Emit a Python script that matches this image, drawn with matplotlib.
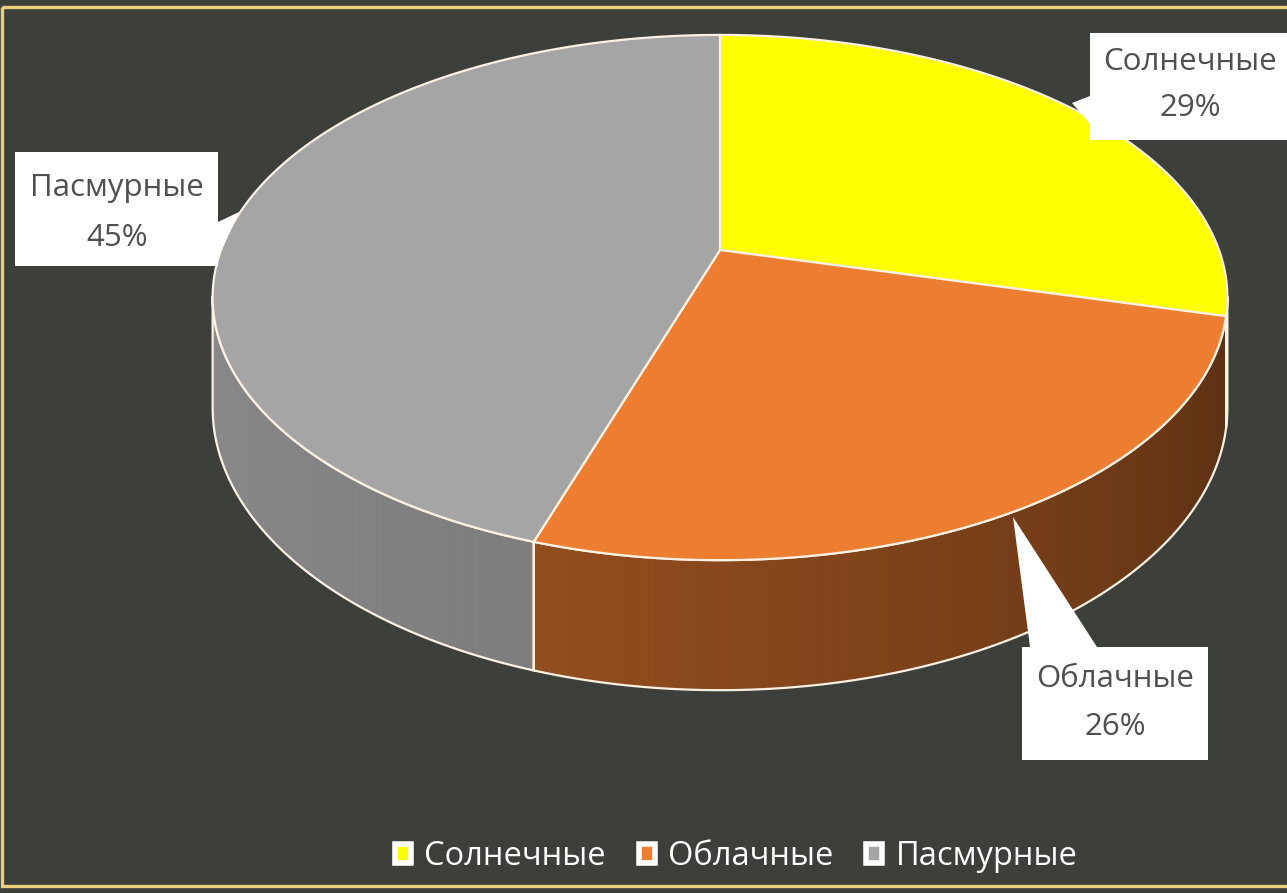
import numpy as np
import matplotlib.pyplot as plt
from matplotlib.patches import Polygon, Patch, Rectangle

plt.rcParams['font.family'] = ['Open Sans', 'DejaVu Sans']

# data
categories = ['Солнечные', 'Облачные', 'Пасмурные']
shares = [29, 26, 45]
top_colors = ['#FFFF00', '#ED7D31', '#A5A5A5']
# brightness of the side wall at the start / end of each slice (clockwise)
side_shade = [(0.55, 0.45), (0.38, 0.62), (0.76, 0.98)]

BG = '#3d3f3b'
EDGE = '#fbf1e2'

# projection of the 3d pie (pixel space)
cx, cy = 720, 250
a, b, p, dz = 254, 499, 0.181, 106.5


def project(phi, bottom=False):
    t = np.radians(phi)
    d = 1 + p * np.sin(t)
    x = cx + b * np.cos(t) / d
    y = cy - a * np.sin(t) / d
    if bottom:
        y = y + dz / d
    return x, y


def quad_area(pts):
    x = pts[:, 0]
    y = pts[:, 1]
    return 0.5 * np.sum(x * np.roll(y, -1) - np.roll(x, -1) * y)


def strip(p1, p2):
    x1, y1 = project(p1)
    x2, y2 = project(p2)
    x3, y3 = project(p2, True)
    x4, y4 = project(p1, True)
    return np.array([[x1, y1], [x2, y2], [x3, y3], [x4, y4]])


ref_sign = np.sign(quad_area(strip(-89, -91)))

fig = plt.figure(figsize=(12.87, 8.93), dpi=100)
fig.patch.set_facecolor(BG)
ax = fig.add_axes([0, 0, 1, 1])
ax.set_xlim(0, 1287)
ax.set_ylim(893, 0)
ax.axis('off')

# slice angles, starting at 12 o'clock going clockwise
cum = np.cumsum([0] + shares)
starts = 90 - cum[:-1] * 3.6
ends = 90 - cum[1:] * 3.6

# side walls
for i in range(len(shares)):
    phis = np.linspace(starts[i], ends[i], 200)
    vis = []
    base = np.array(plt.matplotlib.colors.to_rgb(top_colors[i]))
    s0, s1 = side_shade[i]
    for k in range(len(phis) - 1):
        q = strip(phis[k], phis[k + 1])
        if np.sign(quad_area(q)) == ref_sign:
            frac = k / (len(phis) - 2)
            col = np.clip(base * (s0 + (s1 - s0) * frac), 0, 1)
            ax.add_patch(Polygon(q, closed=True, facecolor=col, edgecolor=col,
                                 linewidth=0.6, zorder=2))
            vis.append(k)
    if vis:
        vp = phis[vis[0]:vis[-1] + 2]
        tx, ty = project(vp)
        bx, by = project(vp, True)
        outline = np.column_stack([np.r_[tx, bx[::-1]], np.r_[ty, by[::-1]]])
        ax.add_patch(Polygon(outline, closed=True, facecolor='none', edgecolor=EDGE,
                             linewidth=1.6, zorder=3))

# top faces
for i in range(len(shares)):
    phis = np.linspace(starts[i], ends[i], 300)
    tx, ty = project(phis)
    pts = np.column_stack([np.r_[cx, tx], np.r_[cy, ty]])
    ax.add_patch(Polygon(pts, closed=True, facecolor=top_colors[i], edgecolor=EDGE,
                         linewidth=1.6, zorder=4))

# callout labels
label_boxes = [
    [(1090, 33), (1295, 33), (1295, 140), (1090, 140), (1090, 124), (1072, 103), (1090, 96)],
    [(1022, 647), (1030, 647), (1013, 517), (1097, 647), (1208, 647), (1208, 760), (1022, 760)],
    [(15, 152), (218, 152), (218, 222), (239, 212), (218, 258), (218, 266), (15, 266)],
]
label_pos = [(1190, 62, 108), (1115, 679, 727), (117, 188, 238)]
for i in range(len(shares)):
    ax.add_patch(Polygon(label_boxes[i], closed=True, facecolor='white',
                         edgecolor='none', zorder=6))
    x, y1, y2 = label_pos[i]
    ax.text(x, y1, categories[i], ha='center', va='center', fontsize=22.5,
            color='#505050', zorder=7)
    ax.text(x, y2, f'{shares[i]}%', ha='center', va='center', fontsize=22.5,
            color='#505050', zorder=7)

# legend
handles = [Patch(facecolor=c, edgecolor='white', linewidth=4) for c in top_colors]
ax.legend(handles, categories, loc='center', bbox_to_anchor=(0.572, 0.041),
          ncol=3, frameon=False, fontsize=23.5, labelcolor='white',
          handlelength=0.5, handleheight=0.5, handletextpad=0.4,
          columnspacing=1.0, borderpad=0)

# yellow frame
ax.add_patch(Rectangle((1.5, 7), 1300, 879, facecolor='none', edgecolor='#e9d17a',
                       linewidth=2.4, zorder=8, clip_on=False))

fig.savefig('out.png', dpi=100, facecolor=BG)
